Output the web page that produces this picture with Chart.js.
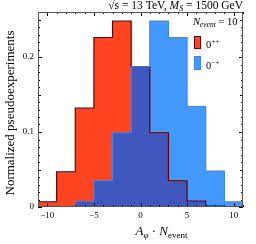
<!DOCTYPE html>
<html>
<head>
<meta charset="utf-8">
<script src="https://cdn.jsdelivr.net/npm/chart.js@4/dist/chart.umd.min.js"></script>
<style>
html,body{margin:0;padding:0;background:#fff;}
#wrap{width:256px;height:244px;}
</style>
</head>
<body>
<div id="wrap"><canvas id="c" width="256" height="244"></canvas></div>
<script>
// ---- data ----
const binEdges = [-11, -9, -7, -5, -3, -1, 1, 3, 5, 7, 9, 11];
const scalar0pp = [0.007, 0.047, 0.132, 0.226, 0.248, 0.187, 0.099, 0.035, 0.008, 0.0013, 0.0003];
const pseudo0mp = [0.0003, 0.0013, 0.008, 0.035, 0.099, 0.187, 0.248, 0.226, 0.134, 0.048, 0.007];
const xTickLabels = [-10, -5, 0, 5, 10];
const yTickLabels = [0, 0.1, 0.2];

const SERIF = '"Liberation Serif", "DejaVu Serif", serif';

function steps(vals) {
  const pts = [{x: binEdges[0], y: 0}];
  vals.forEach((v, i) => pts.push({x: binEdges[i], y: v}));
  pts.push({x: binEdges[binEdges.length - 1], y: vals[vals.length - 1]});
  pts.push({x: binEdges[binEdges.length - 1], y: 0});
  return pts;
}
const overlapVals = scalar0pp.map((v, i) => Math.min(v, pseudo0mp[i]));

const RED = '#ff4422', RED_LINE = '#6a0000';
const BLUE = '#4499ff', BLUE_LINE = '#3a86f2';
const OVER = '#4058bd';

function runs(ctx, x, y, parts, align) {
  let w = 0;
  parts.forEach(p => { ctx.font = p.f; w += ctx.measureText(p.t).width; });
  let cx = align === 'right' ? x - w : (align === 'center' ? x - w / 2 : x);
  parts.forEach(p => {
    ctx.font = p.f;
    ctx.fillText(p.t, cx, y + (p.dy || 0));
    cx += ctx.measureText(p.t).width;
  });
}

const decor = {
  id: 'decor',
  afterDatasetsDraw(chart) {
    const ctx = chart.ctx, a = chart.chartArea;
    const xs = chart.scales.x, ys = chart.scales.y;
    ctx.save();
    ctx.strokeStyle = '#000';
    ctx.lineWidth = 1;
    ctx.beginPath();
    for (let v = -11; v <= 11; v++) {
      const px = Math.round(xs.getPixelForValue(v)) + 0.5;
      const len = (v % 5 === 0) ? 4 : 2;
      ctx.moveTo(px, a.bottom); ctx.lineTo(px, a.bottom - len);
      ctx.moveTo(px, a.top); ctx.lineTo(px, a.top + len);
    }
    for (let k = 0; k <= 26; k++) {
      const py = Math.round(ys.getPixelForValue(k / 100)) + 0.5;
      const len = (k % 10 === 0) ? 4 : (k % 5 === 0 ? 3 : 2);
      ctx.moveTo(a.left, py); ctx.lineTo(a.left + len, py);
      ctx.moveTo(a.right, py); ctx.lineTo(a.right - len, py);
    }
    ctx.stroke();
    ctx.strokeStyle = '#555';
    ctx.strokeRect(a.left + 0.5, a.top + 0.5, a.right - a.left - 1, a.bottom - a.top - 1);
    ctx.restore();
  },
  afterDraw(chart) {
    const ctx = chart.ctx, a = chart.chartArea;
    ctx.save();
    ctx.fillStyle = '#000';
    ctx.textBaseline = 'alphabetic';
    runs(ctx, a.right, 9, [
      {t: '\u221As = 13 TeV, ', f: '11.5px ' + SERIF},
      {t: 'M', f: 'italic 11.5px ' + SERIF},
      {t: 'S', f: 'italic 8px ' + SERIF, dy: 2},
      {t: ' = 1500 GeV', f: '11.5px ' + SERIF}
    ], 'right');
    runs(ctx, (a.left + a.right) / 2 + 21, 235, [
      {t: 'A', f: 'italic 13px ' + SERIF},
      {t: '\u03C6', f: 'italic 9px ' + SERIF, dy: 3},
      {t: ' \u00B7 ', f: '13px ' + SERIF},
      {t: 'N', f: 'italic 13px ' + SERIF},
      {t: 'event', f: '9px ' + SERIF, dy: 3}
    ], 'center');
    ctx.save();
    ctx.translate(14, 113);
    ctx.rotate(-Math.PI / 2);
    runs(ctx, 0, 0, [{t: 'Normalized pseudoexperiments', f: '13px ' + SERIF}], 'center');
    ctx.restore();
    runs(ctx, 193, 25, [
      {t: 'N', f: 'italic 10.5px ' + SERIF},
      {t: 'event', f: 'italic 7.5px ' + SERIF, dy: 2},
      {t: ' = 10', f: '10.5px ' + SERIF}
    ], 'left');
    ctx.lineWidth = 1;
    ctx.fillStyle = RED; ctx.fillRect(194, 36, 7, 13);
    ctx.strokeStyle = RED_LINE; ctx.strokeRect(194.5, 36.5, 6, 12);
    ctx.fillStyle = BLUE; ctx.fillRect(194, 56, 7, 14);
    ctx.strokeStyle = BLUE_LINE; ctx.strokeRect(194.5, 56.5, 6, 13);
    ctx.fillStyle = '#000';
    runs(ctx, 206, 48, [
      {t: '0', f: '10.5px ' + SERIF},
      {t: '++', f: '7px ' + SERIF, dy: -4}
    ], 'left');
    runs(ctx, 206, 69, [
      {t: '0', f: '10.5px ' + SERIF},
      {t: '\u2212+', f: '7px ' + SERIF, dy: -4}
    ], 'left');
    ctx.restore();
  }
};

const common = {stepped: true, pointRadius: 0, tension: 0};
new Chart(document.getElementById('c'), {
  type: 'line',
  data: {
    datasets: [
      Object.assign({label: 'blueLine', data: steps(pseudo0mp), borderColor: BLUE_LINE, borderWidth: 1.2, fill: false, order: 1}, common),
      Object.assign({label: 'redLine', data: steps(scalar0pp), borderColor: RED_LINE, borderWidth: 1.2, fill: false, order: 2}, common),
      Object.assign({label: 'overlap', data: steps(overlapVals), borderWidth: 0, borderColor: 'rgba(0,0,0,0)', backgroundColor: OVER, fill: 'origin', order: 3}, common),
      Object.assign({label: '0-+', data: steps(pseudo0mp), borderWidth: 0, borderColor: 'rgba(0,0,0,0)', backgroundColor: BLUE, fill: 'origin', order: 4}, common),
      Object.assign({label: '0++', data: steps(scalar0pp), borderWidth: 0, borderColor: 'rgba(0,0,0,0)', backgroundColor: RED, fill: 'origin', order: 5}, common)
    ]
  },
  options: {
    responsive: false,
    animation: false,
    events: [],
    layout: {padding: {top: 12, right: 13, left: 0, bottom: 0}},
    plugins: {legend: {display: false}, tooltip: {enabled: false}, title: {display: false}},
    scales: {
      x: {
        type: 'linear', min: -11, max: 11,
        afterFit(s) { s.height = 37; },
        afterBuildTicks(s) { s.ticks = xTickLabels.map(v => ({value: v})); },
        grid: {display: false, drawTicks: false},
        border: {display: false},
        ticks: {
          font: {family: SERIF, size: 9}, color: '#000', padding: 3, maxRotation: 0,
          callback: v => String(v).replace('-', '\u2212')
        }
      },
      y: {
        type: 'linear', min: 0, max: 0.26,
        afterFit(s) { s.width = 38; },
        afterBuildTicks(s) { s.ticks = yTickLabels.map(v => ({value: v})); },
        grid: {display: false, drawTicks: false},
        border: {display: false},
        ticks: {font: {family: SERIF, size: 9}, color: '#000', padding: 4, callback: v => String(v)}
      }
    }
  },
  plugins: [decor]
});
</script>
</body>
</html>
